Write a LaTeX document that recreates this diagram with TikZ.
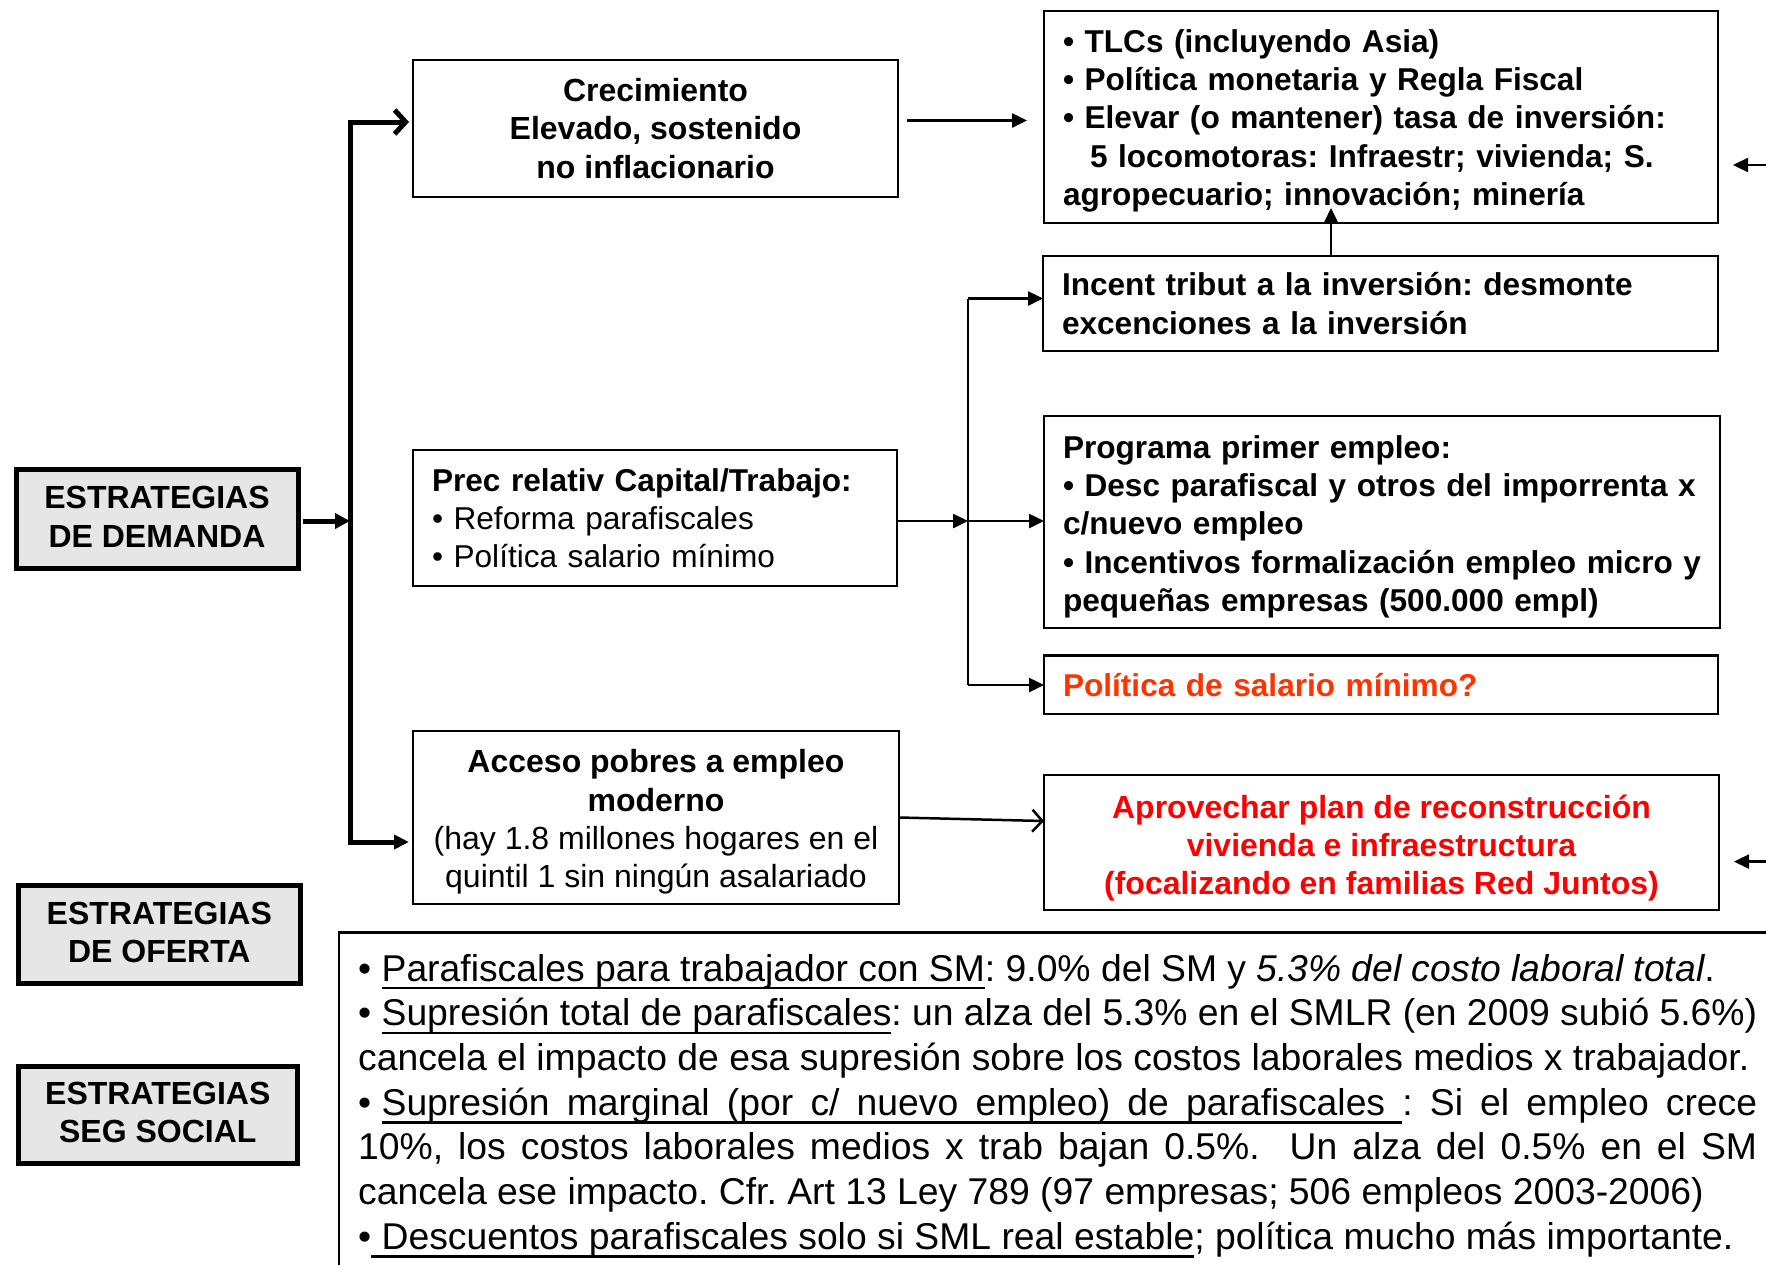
\documentclass[tikz,border=0pt]{standalone}
\usepackage{fontspec}
\setmainfont{Liberation Sans}
\usetikzlibrary{arrows.meta,calc}
\definecolor{boxgray}{HTML}{E6E6E6}
\definecolor{orred}{HTML}{FF3300}
\definecolor{brred}{HTML}{FF0000}
\newlength\uldp \setlength\uldp{6pt}
\newlength\ulth \setlength\ulth{2.4pt}
\newcommand\ulw[1]{\setbox0\hbox{#1}\rlap{\vrule height -\uldp depth \dimexpr\uldp+\ulth\relax width \wd0}\box0}
\newcommand\uls{\leaders\hrule height -\uldp depth \dimexpr\uldp+\ulth\relax\hskip\fontdimen2\font plus \fontdimen3\font minus \fontdimen4\font}
\newcommand\fixsp{\hskip\fontdimen2\font\relax}
\newcommand\topstrut[1]{\rule{0pt}{#1}}
\newcommand\botstrut[1]{\rule[-#1]{0pt}{#1}}
\frenchspacing
\begin{document}
\frenchspacing
\begin{tikzpicture}[x=1pt,y=-1pt,
  base/.style={font=\fontsize{32}{38.3}\selectfont, inner sep=0pt, outer sep=0pt},
  thinbox/.style={base, draw, line width=2.5pt, anchor=north west},
  leftbox/.style={thinbox, inner xsep=19pt, align=left, font=\fontsize{31.6}{38.3}\selectfont},
  stratbox/.style={base, draw, line width=5pt, fill=boxgray, anchor=north west, align=center, font=\fontsize{32}{38.3}\selectfont\bfseries},
  thickline/.style={line width=5pt},
  thinline/.style={line width=2.5pt},
  tri/.style={-{Triangle[length=15pt,width=14pt]}},
  barb/.style={-{Straight Barb[length=11pt,width=24pt]}},
  noteline/.style={anchor=base west, inner sep=0pt, font=\fontsize{37.3}{44.7}\selectfont}
]
\path[use as bounding box] (0,0) rectangle (1766,1264);
\clip (0,0) rectangle (1766,1264);

% strategy boxes
\node[stratbox, minimum width=282pt, minimum height=99pt] (dem) at (16,469.5) {ESTRATEGIAS\\DE DEMANDA\botstrut{4.5pt}};
\node[stratbox, minimum width=282pt, minimum height=97.5pt] (ofe) at (18.3,885.5) {ESTRATEGIAS\\DE OFERTA\botstrut{4.5pt}};
\node[stratbox, minimum width=279pt, minimum height=96.7pt] (seg) at (18.3,1066.5) {ESTRATEGIAS\\SEG SOCIAL\botstrut{4.5pt}};

% middle column
\node[thinbox, align=center, font=\fontsize{32}{38.3}\selectfont\bfseries, minimum width=485pt, minimum height=137pt] (crec) at (413,60) {Crecimiento\\Elevado, sostenido\\no inflacionario};
\node[leftbox, text width=446pt, minimum height=136pt] (prec) at (413,450) {\textbf{Prec relativ Capital/Trabajo:}\\\mbox{• Reforma parafiscales}\\\mbox{• Política salario mínimo}};
\node[thinbox, align=center, minimum width=486pt, minimum height=173pt] (acc) at (413,731) {\topstrut{32.3pt}\textbf{Acceso pobres a empleo}\\\textbf{moderno}\\(hay 1.8 millones hogares en el\\quintil 1 sin ningún asalariado};

% right column
\node[leftbox, font=\fontsize{31.6}{38.3}\selectfont\bfseries, text width=636pt, minimum height=212pt] (tlc) at (1044,11) {\mbox{\topstrut{30.5pt}• TLCs (incluyendo Asia)}\\\mbox{• Política monetaria y Regla Fiscal}\\\mbox{• Elevar (o mantener) tasa de inversión:}\\\mbox{\hspace*{27pt}5 locomotoras: Infraestr; vivienda; S.}\\\mbox{agropecuario; innovación; minería}};
\node[leftbox, font=\fontsize{31.6}{38.3}\selectfont\bfseries, text width=637pt, minimum height=95pt] (inc) at (1043,256) {\mbox{Incent tribut a la inversión: desmonte}\\\mbox{excenciones a la inversión}};
\node[leftbox, font=\fontsize{31.6}{38.3}\selectfont\bfseries, text width=638pt, minimum height=212pt] (prog) at (1044,416) {\mbox{\topstrut{32.3pt}Programa primer empleo:}\\\mbox{• Desc parafiscal y otros del imporrenta x}\\\mbox{c/nuevo empleo}\\\mbox{• Incentivos formalización empleo micro y}\\\mbox{pequeñas empresas (500.000 empl)}};
\node[leftbox, font=\fontsize{31.6}{38.3}\selectfont\bfseries, text=orred, text width=636pt, minimum height=58.5pt] (pol) at (1044,655.5) {\mbox{Política de salario mínimo?}};
\node[thinbox, align=center, font=\fontsize{32}{38.3}\selectfont\bfseries, text=brred, minimum width=675pt, minimum height=135pt] (apr) at (1044,775) {\topstrut{34.5pt}Aprovechar plan de reconstrucción\\vivienda e infraestructura\\(focalizando en familias Red Juntos)};

% bottom note box
\node[thinbox, minimum width=1461pt, minimum height=368pt] (note) at (339,932.6) {};
\node[noteline] (n1) at (358,981) {•\fixsp\ulw{Parafiscales}\uls\ulw{para}\uls\ulw{trabajador}\uls\ulw{con}\uls\ulw{SM}: 9.0\% del SM y \textit{5.3\% del costo laboral total}.};
\node[noteline] (n2) at (358,1025.7) {\makebox[1399pt][s]{•\fixsp\ulw{Supresión}\uls\ulw{total}\uls\ulw{de}\uls\ulw{parafiscales}: un alza del 5.3\% en el SMLR (en 2009 subió 5.6\%)}};
\node[noteline] (n3) at (358,1070.4) {cancela el impacto de esa supresión sobre los costos laborales medios x trabajador.};
\node[noteline] (n4) at (358,1115.1) {\makebox[1399pt][s]{•\fixsp\ulw{Supresión}\uls\ulw{marginal}\uls\ulw{(por}\uls\ulw{c/}\uls\ulw{nuevo}\uls\ulw{empleo)}\uls\ulw{de}\uls\ulw{parafiscales}\uls: Si el empleo crece}};
\node[noteline] (n5) at (358,1159.8) {\makebox[1399pt][s]{10\%, los costos laborales medios x trab bajan 0.5\%.\ \ Un alza del 0.5\% en el SM}};
\node[noteline] (n6) at (358,1204.5) {cancela ese impacto. Cfr. Art 13 Ley 789 (97 empresas; 506 empleos 2003-2006)};
\node[noteline] (n7) at (358,1249.2) {•\uls\ulw{Descuentos}\uls\ulw{parafiscales}\uls\ulw{solo}\uls\ulw{si}\uls\ulw{SML}\uls\ulw{real}\uls\ulw{estable}; política mucho más importante.};

% bus from demand strategies
\coordinate (bt) at (350,122);
\coordinate (bb) at (350,842);
\coordinate (bm) at (350,521);
\draw[thickline, barb, line join=miter] (bb) -- (bt) -- ([xshift=-4pt]crec.west |- bt);
\draw[thickline, tri, line join=miter] (bt) -- (bb) -- ([xshift=-4pt]acc.west |- bb);
\draw[thickline, -{Triangle[length=15pt,width=15pt]}, shorten <=5pt] (dem.east |- bm) -- (bm);

% crecimiento -> TLCs
\draw[thinline, tri, shorten <=9pt, shorten >=17pt] ([yshift=8pt]crec.east) -- ([yshift=8pt]crec.east -| tlc.west);

% incentivos -> TLCs
\coordinate (itip) at (1331,208);
\draw[thinline, tri] (inc.north -| itip) -- (itip);

% branch from prec relativ
\coordinate (jt) at (968,298.5);
\coordinate (jm) at (968,521);
\coordinate (jb) at (968,685);
\draw[thinline, tri] (prec.east |- jm) -- (jm);
\draw[thinline] (jt) -- (jb);
\draw[thinline, tri] (jt) -- (inc.west |- jt);
\draw[thinline, tri] (jm) -- (prog.west |- jm);
\draw[thinline, tri] (jb) -- (pol.west |- jb);

% acceso -> aprovechar
\draw[thinline, -{Straight Barb[length=10pt,width=22pt]}] (acc.east) -- ([yshift=21.5pt]apr.west);

% arrows from the right edge
\coordinate (re1) at (1772,165);
\coordinate (re2) at (1772,861.6);
\draw[thinline, tri] (re1) -- ([xshift=15pt]tlc.east |- re1);
\draw[thinline, tri] (re2) -- ([xshift=15pt]apr.east |- re2);
\end{tikzpicture}
\end{document}
